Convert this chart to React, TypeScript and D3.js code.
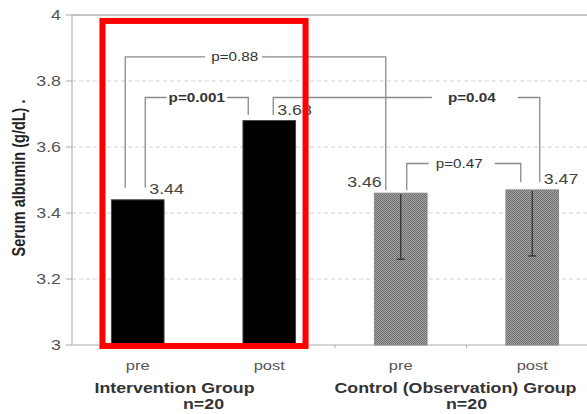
import React, { useRef, useEffect } from "react";
import * as d3 from "d3";

// bars: intervention pre/post, control pre/post
const categories = ["pre", "post", "pre", "post"];
const means = [3.44, 3.68, 3.46, 3.47];
const errLow = [null, null, 3.26, 3.27];
const groups = ["Intervention Group", "Control (Observation) Group"];
const groupN = ["n=20", "n=20"];
const yTicks = [3, 3.2, 3.4, 3.6, 3.8, 4];

// significance brackets between bars (a -> b)
const brackets = [
  { a: 0, b: 1, label: "p=0.001", bold: true, level: 3.75, legA: 7.5, legB: -21, endA: 12, endB: 5.6, at: 0.5, pad: [2, 2] },
  { a: 0, b: 2, label: "p=0.88", bold: false, level: 3.873, legA: -12.5, legB: -15, endA: 12, endB: 3, at: 0.42, pad: [6, 4] },
  { a: 1, b: 3, label: "p=0.04", bold: true, level: 3.75, legA: 4, legB: 7.5, endA: 5.6, endB: 8, at: 0.745, pad: [16, 22] },
  { a: 2, b: 3, label: "p=0.47", bold: false, level: 3.55, legA: 6, legB: -11.5, endA: 3, endB: 8, at: 0.46, pad: [7, 12] },
];
// value labels next to bracket legs
const valueLabelDx = [11.5, 8, -19, 11.5];
const valueLabelAnchor = ["start", "start", "end", "start"];
const groupDx = [-29, -11];

const W = 587, H = 414;
const SX = 1.27; // the source picture is stretched horizontally
const FONT = "'Liberation Sans', Arial, sans-serif";

export default function App() {
  const ref = useRef<SVGSVGElement>(null);

  useEffect(() => {
    const svg = d3.select(ref.current);
    svg.selectAll("*").remove();

    const x = d3.scaleBand<number>().domain(d3.range(4)).range([72, 598]).paddingInner(0.6).paddingOuter(0.3);
    const y = d3.scaleLinear().domain([3, 4]).range([345, 15]);
    const cx = (i: number) => (x(i) as number) + x.bandwidth() / 2;

    const defs = svg.append("defs");
    const pat = defs.append("pattern").attr("id", "chk").attr("width", 2).attr("height", 2).attr("patternUnits", "userSpaceOnUse");
    pat.append("rect").attr("width", 2).attr("height", 2).attr("fill", "#a6a6a6");
    pat.append("rect").attr("width", 1).attr("height", 1).attr("fill", "#6c6c6c");
    pat.append("rect").attr("x", 1).attr("y", 1).attr("width", 1).attr("height", 1).attr("fill", "#6c6c6c");

    const txt = (g: any, tx: number, ty: number, s: string, size: number, opts: any = {}) =>
      g.append("text")
        .attr("transform", `translate(${tx},${ty}) scale(${SX},1)` + (opts.rotate ? " rotate(-90)" : ""))
        .attr("text-anchor", opts.anchor || "middle")
        .attr("font-family", FONT)
        .attr("font-size", size)
        .attr("font-weight", opts.bold ? "bold" : "normal")
        .attr("fill", opts.fill || "#444")
        .text(s);

    // grid
    svg.append("g").selectAll("line").data(yTicks.filter(t => t > 3 && t < 4)).join("line")
      .attr("x1", 72).attr("x2", W).attr("y1", d => y(d)).attr("y2", d => y(d))
      .attr("stroke", "#d4d4d4").attr("stroke-dasharray", "4,3");
    // frame
    svg.append("line").attr("x1", 72).attr("x2", W).attr("y1", y(4)).attr("y2", y(4)).attr("stroke", "#c4c4c4").attr("stroke-width", 2);
    svg.append("line").attr("x1", 72).attr("x2", 72).attr("y1", y(4)).attr("y2", y(3)).attr("stroke", "#aaa");
    svg.append("line").attr("x1", 72).attr("x2", W).attr("y1", y(3)).attr("y2", y(3)).attr("stroke", "#aaa");
    svg.append("g").selectAll("line").data(yTicks).join("line")
      .attr("x1", 66).attr("x2", 72).attr("y1", d => y(d)).attr("y2", d => y(d)).attr("stroke", "#aaa");
    svg.append("g").selectAll("line").data([1, 2, 3]).join("line")
      .attr("x1", d => (x(d) as number) - x.step() * 0.3).attr("x2", d => (x(d) as number) - x.step() * 0.3)
      .attr("y1", y(3)).attr("y2", y(3) + 3).attr("stroke", "#aaa");
    yTicks.forEach(t => txt(svg, 61, y(t) + 5, d3.format("~g")(t), 14, { anchor: "end", fill: "#555" }));

    // bars
    svg.append("g").selectAll("rect").data(means).join("rect")
      .attr("x", (d, i) => x(i) as number).attr("width", x.bandwidth())
      .attr("y", d => y(d)).attr("height", d => y(3) - y(d))
      .attr("fill", (d, i) => (i < 2 ? "#000" : "url(#chk)"))
      .attr("stroke", (d, i) => (i < 2 ? "#444" : "#888"));

    // error bars
    errLow.forEach((lo, i) => {
      if (lo == null) return;
      const g = svg.append("g").attr("stroke", "#333").attr("stroke-width", 1.3);
      g.append("line").attr("x1", cx(i)).attr("x2", cx(i)).attr("y1", y(means[i]) + 1).attr("y2", y(lo));
      g.append("line").attr("x1", cx(i) - 4).attr("x2", cx(i) + 4).attr("y1", y(lo)).attr("y2", y(lo));
    });

    // brackets
    brackets.forEach(b => {
      const xa = cx(b.a) + b.legA, xb = cx(b.b) + b.legB, yl = y(b.level);
      const g = svg.append("g");
      const tc = xa + (xb - xa) * b.at;
      const t = txt(g, tc, yl + 4, b.label, 12, { bold: b.bold, fill: "#333" });
      const w = (t.node() as SVGTextElement).getComputedTextLength() * SX;
      const path = d3.path();
      path.moveTo(xa, y(means[b.a]) - b.endA);
      path.lineTo(xa, yl);
      path.lineTo(tc - w / 2 - b.pad[0], yl);
      path.moveTo(tc + w / 2 + b.pad[1], yl);
      path.lineTo(xb, yl);
      path.lineTo(xb, y(means[b.b]) - b.endB);
      g.append("path").attr("d", path.toString()).attr("fill", "none").attr("stroke", "#8a8a8a").attr("stroke-width", 1.3);
    });

    // value labels
    means.forEach((m, i) => txt(svg, cx(i) + valueLabelDx[i], y(m) - 6, d3.format(".2f")(m), 14, { anchor: valueLabelAnchor[i], fill: "#444" }));

    // category + group labels
    categories.forEach((c, i) => txt(svg, cx(i), 370, c, 13, { fill: "#555" }));
    groups.forEach((gname, gi) => {
      const mid = (cx(gi * 2) + cx(gi * 2 + 1)) / 2;
      txt(svg, mid + groupDx[gi], 393, gname, 14, { bold: true, fill: "#333" });
      txt(svg, mid, 409, groupN[gi], 14, { bold: true, fill: "#333" });
    });

    // y axis title
    txt(svg, 25, 178, "Serum albumin (g/dL) .", 14.5, { bold: true, rotate: true, fill: "#222" });

    // red highlight box around the intervention group
    const left = (x(0) as number) - 9, right = (x(1) as number) + x.bandwidth() + 10;
    svg.append("rect").attr("x", left).attr("y", y(3.982)).attr("width", right - left).attr("height", y(3) + 1 - y(3.982))
      .attr("fill", "none").attr("stroke", "#ff0000").attr("stroke-width", 6);
  }, []);

  return (
    <svg ref={ref} width={W} height={H} style={{ position: "fixed", left: 0, top: 0, background: "#fff" }} />
  );
}
